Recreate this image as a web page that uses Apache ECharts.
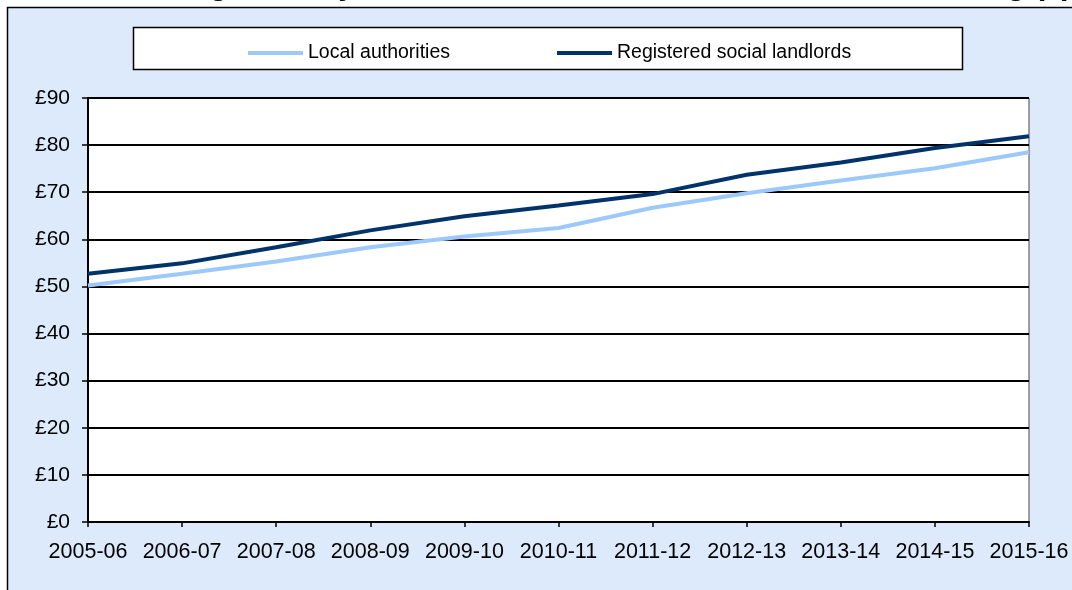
<!DOCTYPE html>
<html>
<head>
<meta charset="utf-8">
<script src="https://cdn.jsdelivr.net/npm/echarts@6/dist/echarts.min.js"></script>
<style>
  html, body { margin: 0; padding: 0; background: #fff; }
  #chart { width: 1072px; height: 590px; }
</style>
</head>
<body>
<div id="chart"></div>
<script>
const years = ['2005-06', '2006-07', '2007-08', '2008-09', '2009-10', '2010-11',
  '2011-12', '2012-13', '2013-14', '2014-15', '2015-16']
const localAuthorities = [50.2, 52.7, 55.3, 58.3, 60.6, 62.4, 66.7, 69.8, 72.5, 75.1, 78.5]
const registeredSocialLandlords = [52.7, 54.9, 58.3, 61.9, 64.9, 67.2, 69.6, 73.7, 76.3, 79.4, 81.9]
const seriesNames = ['Local authorities', 'Registered social landlords']
const titleText = 'Average weekly rents for local authorities and social housing (£)'

const FONT = '"Liberation Sans", Arial, sans-serif'

const chart = echarts.init(document.getElementById('chart'))

const option = {
  backgroundColor: '#fff',
  animation: false,
  graphic: [
    {
      type: 'rect',
      z: -10,
      shape: { x: 7.5, y: 7.5, width: 1100, height: 620 },
      style: { fill: '#DCEAFC', stroke: '#000', lineWidth: 1.5 }
    },
    {
      type: 'rect',
      z: -5,
      shape: { x: 133.5, y: 27.5, width: 829, height: 42 },
      style: { fill: '#fff', stroke: '#000', lineWidth: 1.5 }
    }
  ],
  title: {
    text: titleText,
    left: 124,
    top: -30,
    padding: 0,
    textStyle: { fontFamily: FONT, fontWeight: 'bold', fontSize: 31, color: '#000' }
  },
  legend: {
    data: seriesNames,
    left: 243,
    top: 38,
    itemWidth: 55,
    itemHeight: 4,
    itemGap: 107,
    icon: 'rect',
    textStyle: { fontFamily: FONT, fontSize: 19.5, color: '#000' }
  },
  grid: {
    left: 88,
    right: 43,
    top: 98,
    bottom: 68,
    show: true,
    backgroundColor: '#fff',
    borderColor: '#444',
    borderWidth: 1
  },
  xAxis: {
    type: 'category',
    data: years,
    boundaryGap: false,
    axisLine: { lineStyle: { color: '#000', width: 2 } },
    axisTick: { show: true, length: 5, lineStyle: { color: '#000', width: 1.5 } },
    axisLabel: { fontFamily: FONT, fontSize: 21.5, color: '#000', margin: 19, interval: 0 },
    splitLine: { show: false }
  },
  yAxis: {
    type: 'value',
    min: 0,
    max: 90,
    interval: 10,
    axisLine: { show: true, lineStyle: { color: '#000', width: 2 } },
    axisTick: { show: true, length: 6, lineStyle: { color: '#000', width: 1.5 } },
    axisLabel: {
      fontFamily: FONT, fontSize: 21, color: '#000', margin: 18,
      formatter: v => '£' + v
    },
    splitLine: { lineStyle: { color: '#000', width: 2 } }
  },
  series: [
    {
      name: seriesNames[0],
      type: 'line',
      data: localAuthorities,
      showSymbol: false,
      symbol: 'none',
      lineStyle: { color: '#9CC8FA', width: 4 },
      itemStyle: { color: '#9CC8FA' },
      z: 3
    },
    {
      name: seriesNames[1],
      type: 'line',
      data: registeredSocialLandlords,
      showSymbol: false,
      symbol: 'none',
      lineStyle: { color: '#00336A', width: 4 },
      itemStyle: { color: '#00336A' },
      z: 4
    }
  ]
}

chart.setOption(option)
</script>
</body>
</html>
